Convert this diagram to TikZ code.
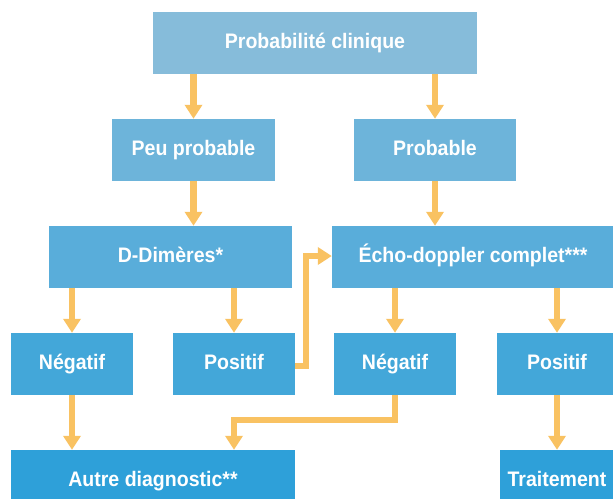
\documentclass[tikz,border=0pt]{standalone}
\usepackage{fontspec}
\setmainfont{Liberation Sans}[FakeStretch=0.93]
\usetikzlibrary{arrows.meta}

\definecolor{lvA}{HTML}{86BCDA}
\definecolor{lvB}{HTML}{6DB4DA}
\definecolor{lvC}{HTML}{59ADDA}
\definecolor{lvD}{HTML}{43A7D9}
\definecolor{lvE}{HTML}{2EA0D9}
\definecolor{flow}{HTML}{F9C262}

\tikzset{
  box/.style={rectangle, inner sep=0pt, minimum height=62pt,
    text height=15pt, text depth=5pt,
    text=white, font=\fontsize{21}{24}\selectfont\bfseries},
  arr/.style={draw=flow, line width=6.5pt, miter limit=10,
    -{Triangle[width=17pt,length=14pt]}}
}

\begin{document}
\begin{tikzpicture}[x=1pt,y=-1pt]
\clip (0,0) rectangle (613,498);
\fill[white] (0,0) rectangle (613,498);

% boxes, one row after another
\node[box, fill=lvA, minimum width=324pt] (top)  at (315,43)   {Probabilité clinique};
\node[box, fill=lvB, minimum width=163pt] (peu)  at (193.5,150) {Peu probable};
\node[box, fill=lvB, minimum width=162pt] (prob) at (435,150)   {Probable};
\node[box, fill=lvC, minimum width=243pt] (dd)   at (170.5,257) {D-Dimères*};
\node[box, fill=lvC, minimum width=282pt] (echo) at (473,257)   {Écho-doppler complet***};
\node[box, fill=lvD, minimum width=122pt] (neg1) at (72,364)    {Négatif};
\node[box, fill=lvD, minimum width=122pt] (pos1) at (234,364)   {Positif};
\node[box, fill=lvD, minimum width=122pt] (neg2) at (395,364)   {Négatif};
\node[box, fill=lvD, minimum width=120pt] (pos2) at (557,364)   {Positif};
\node[box, fill=lvE, minimum width=284pt] (autre) at (153,481)  {Autre diagnostic**};
\node[box, fill=lvE, minimum width=114pt] (trait) at (557,481)  {Traitement};

% connectors
\draw[arr] (top.south -| peu.north) -- (peu.north);
\draw[arr] (top.south -| prob.north) -- (prob.north);
\draw[arr] (peu.south) -- (peu.south |- dd.north);
\draw[arr] (prob.south) -- (prob.south |- echo.north);
\draw[arr] (dd.south -| neg1.north) -- (neg1.north);
\draw[arr] (dd.south -| pos1.north) -- (pos1.north);
\draw[arr] (echo.south -| neg2.north) -- (neg2.north);
\draw[arr] (echo.south -| pos2.north) -- (pos2.north);
\draw[arr] (neg1.south) -- (neg1.south |- autre.north);
\draw[arr] (neg2.south) -- ++(0,25) -| (autre.north -| pos1.south);
\draw[arr] ([yshift=-2pt]pos1.east) -- ++(11,0) |- ([yshift=1pt]echo.west);
\draw[arr] (pos2.south) -- (pos2.south |- trait.north);
\end{tikzpicture}
\end{document}
